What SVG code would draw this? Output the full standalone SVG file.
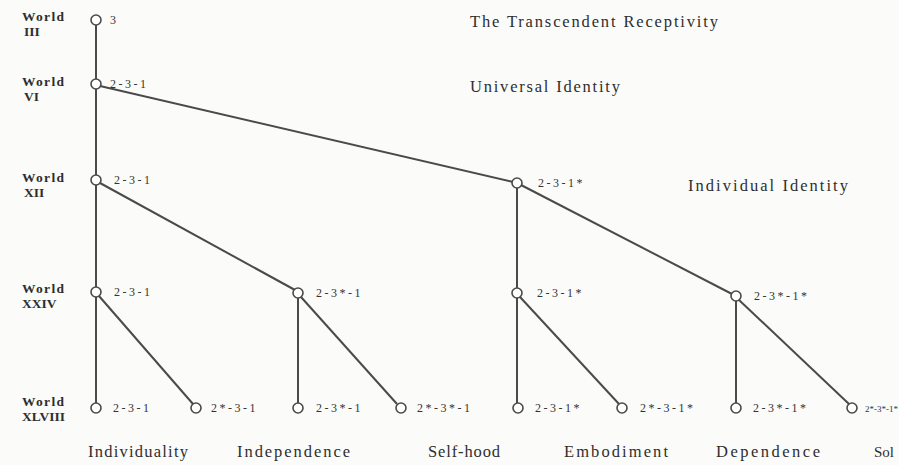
<svg xmlns="http://www.w3.org/2000/svg" width="899" height="465" viewBox="0 0 899 465">
<style>
.bg{fill:#fbfbfa}
.ln{stroke:#4a4a4a;stroke-width:2;fill:none}
.nd{fill:#fff;stroke:#4a4a4a;stroke-width:1.6}
.w{font-family:"Liberation Serif",serif;font-size:13.5px;fill:#2e2e2e;font-weight:bold}
.lab{font-family:"Liberation Serif",serif;font-size:12px;fill:#333;letter-spacing:2.5px}
.t{font-family:"Liberation Serif",serif;font-size:16.5px;fill:#2e2e2e}
</style>
<rect class="bg" x="0" y="0" width="899" height="465"/>
<g id="connectors">
<line class="ln" x1="96" y1="25" x2="96" y2="403"/>
<line class="ln" x1="100" y1="86" x2="513" y2="182"/>
<line class="ln" x1="100" y1="183" x2="295" y2="290"/>
<line class="ln" x1="521" y1="185" x2="732" y2="294"/>
<line class="ln" x1="517" y1="188" x2="517" y2="403"/>
<line class="ln" x1="298" y1="298" x2="298" y2="403"/>
<line class="ln" x1="736" y1="301" x2="736" y2="403"/>
<line class="ln" x1="99" y1="296" x2="193" y2="404"/>
<line class="ln" x1="301" y1="297" x2="397" y2="404"/>
<line class="ln" x1="520" y1="297" x2="619" y2="404"/>
<line class="ln" x1="739" y1="300" x2="849" y2="404"/>
</g>
<g id="world-labels">
<text class="w" x="22" y="21" textLength="42" lengthAdjust="spacing">World</text><text class="w" x="24" y="36">III</text>
<text class="w" x="22" y="86" textLength="42" lengthAdjust="spacing">World</text><text class="w" x="24" y="101">VI</text>
<text class="w" x="22" y="182" textLength="42" lengthAdjust="spacing">World</text><text class="w" x="24" y="197">XII</text>
<text class="w" x="22" y="293" textLength="42" lengthAdjust="spacing">World</text><text class="w" x="22" y="308">XXIV</text>
<text class="w" x="22" y="406" textLength="42" lengthAdjust="spacing">World</text><text class="w" x="22" y="421">XLVIII</text>
</g>
<g id="n-iii"><circle class="nd" cx="96" cy="20" r="5"/><text class="lab" x="110" y="24">3</text></g>
<g id="n-vi"><circle class="nd" cx="96" cy="84" r="5"/><text class="lab" x="110" y="88">2-3-1</text></g>
<g id="n-xii-a"><circle class="nd" cx="96" cy="180" r="5"/><text class="lab" x="114" y="184">2-3-1</text></g>
<g id="n-xii-b"><circle class="nd" cx="517" cy="183" r="5"/><text class="lab" x="538" y="187">2-3-1*</text></g>
<g id="n-xxiv-a"><circle class="nd" cx="96" cy="292" r="5"/><text class="lab" x="114" y="296">2-3-1</text></g>
<g id="n-xxiv-b"><circle class="nd" cx="298" cy="293" r="5"/><text class="lab" x="316" y="297">2-3*-1</text></g>
<g id="n-xxiv-c"><circle class="nd" cx="517" cy="293" r="5"/><text class="lab" x="537" y="297">2-3-1*</text></g>
<g id="n-xxiv-d"><circle class="nd" cx="736" cy="296" r="5"/><text class="lab" x="754" y="300">2-3*-1*</text></g>
<g id="n-b1"><circle class="nd" cx="96" cy="408" r="5"/><text class="lab" x="113" y="412">2-3-1</text></g>
<g id="n-b2"><circle class="nd" cx="196" cy="408" r="5"/><text class="lab" x="211" y="412">2*-3-1</text></g>
<g id="n-b3"><circle class="nd" cx="298" cy="408" r="5"/><text class="lab" x="316" y="412">2-3*-1</text></g>
<g id="n-b4"><circle class="nd" cx="401" cy="408" r="5"/><text class="lab" x="417" y="412">2*-3*-1</text></g>
<g id="n-b5"><circle class="nd" cx="518" cy="408" r="5"/><text class="lab" x="535" y="412">2-3-1*</text></g>
<g id="n-b6"><circle class="nd" cx="622" cy="408" r="5"/><text class="lab" x="640" y="412">2*-3-1*</text></g>
<g id="n-b7"><circle class="nd" cx="736" cy="408" r="5"/><text class="lab" x="753" y="412">2-3*-1*</text></g>
<g id="n-b8"><circle class="nd" cx="852" cy="408" r="5"/><text class="lab" x="865" y="412" style="letter-spacing:0;font-size:9px">2*-3*-1*</text></g>
<g id="titles">
<text class="t" x="470" y="27" textLength="248" lengthAdjust="spacing">The Transcendent Receptivity</text>
<text class="t" x="470" y="92" textLength="150" lengthAdjust="spacing">Universal Identity</text>
<text class="t" x="688" y="191" textLength="160" lengthAdjust="spacing">Individual Identity</text>
<text class="t" x="88" y="457" textLength="100" lengthAdjust="spacing">Individuality</text>
<text class="t" x="237" y="457" textLength="113" lengthAdjust="spacing">Independence</text>
<text class="t" x="428" y="457" textLength="72" lengthAdjust="spacing">Self-hood</text>
<text class="t" x="564" y="457" textLength="104" lengthAdjust="spacing">Embodiment</text>
<text class="t" x="716" y="457" textLength="104" lengthAdjust="spacing">Dependence</text>
<text class="t" x="874" y="457" style="font-size:15px">Sol</text>
</g>
</svg>
